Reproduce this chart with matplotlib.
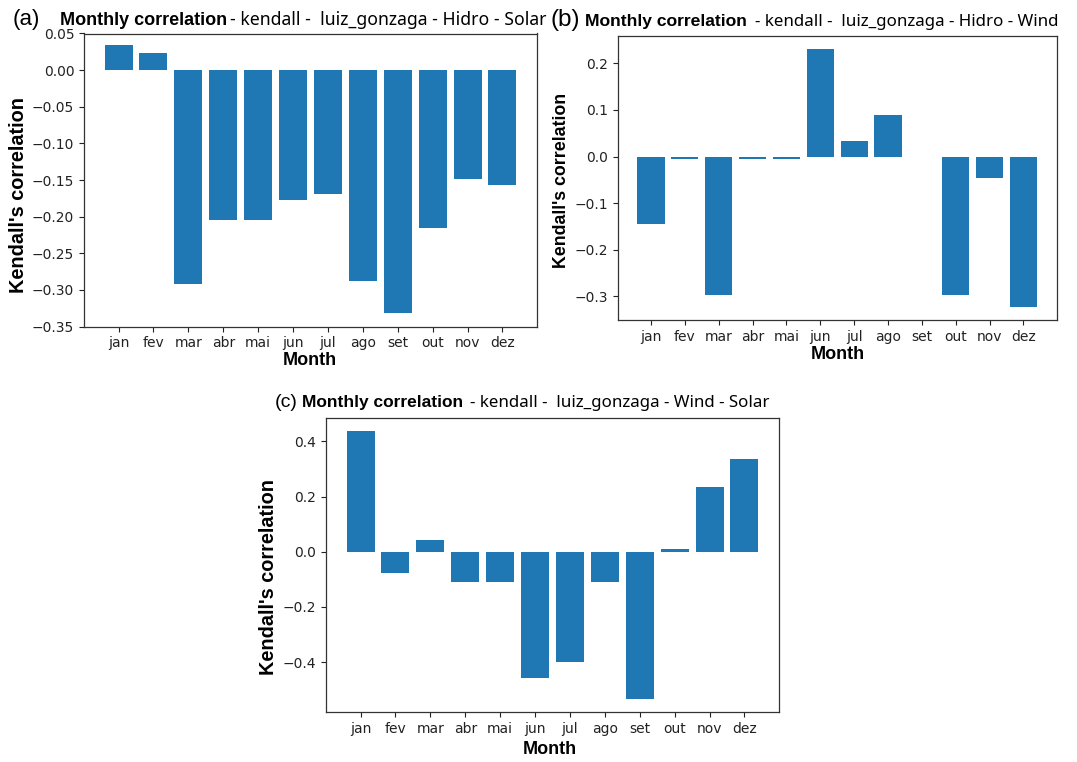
import matplotlib
matplotlib.use("Agg")
import matplotlib.pyplot as plt
import numpy as np

months = ["jan", "fev", "mar", "abr", "mai", "jun", "jul", "ago", "set", "out", "nov", "dez"]

hidro_solar = [0.034, 0.024, -0.292, -0.205, -0.205, -0.177, -0.169, -0.288, -0.331, -0.216, -0.149, -0.157]
hidro_wind = [-0.144, -0.006, -0.296, -0.006, -0.006, 0.231, 0.034, 0.090, 0.0, -0.296, -0.046, -0.323]
wind_solar = [0.436, -0.077, 0.043, -0.111, -0.111, -0.458, -0.399, -0.111, -0.532, 0.009, 0.234, 0.337]

hs_ticks = [-0.35, -0.30, -0.25, -0.20, -0.15, -0.10, -0.05, 0.00, 0.05]

W, H = 1077, 762
fig = plt.figure(figsize=(W / 100, H / 100), dpi=100)
fig.patch.set_facecolor("white")

BAR = "#1f77b4"
LBL = "Liberation Sans"
TTL = "Noto Sans"


def px_axes(left, top, right, bottom):
    return fig.add_axes([left / W, 1 - bottom / H, (right - left) / W, (bottom - top) / H])


def panel(ax, values):
    x = np.arange(len(months))
    ax.bar(x, values, width=0.8, color=BAR)
    ax.set_xticks(x)
    ax.set_xticklabels(months)
    ax.tick_params(labelsize=10, colors="#222222")
    for s in ax.spines.values():
        s.set_color("#333333")
        s.set_linewidth(0.9)


def header(letter, x_letter, x_bold, x_rest, y_base, rest, s_letter, s_bold, s_rest):
    yb = 1 - y_base / H
    fig.text(x_letter / W, yb, letter, fontsize=s_letter, family=LBL, va="baseline", ha="left")
    fig.text(x_bold / W, yb, "Monthly correlation", fontsize=s_bold, family=LBL,
             fontweight="bold", va="baseline", ha="left")
    fig.text(x_rest / W, yb, rest, fontsize=s_rest, family=TTL, va="baseline", ha="left")


def axis_labels(ylab_xy, ylab_size, xlab_xy):
    fig.text(ylab_xy[0] / W, 1 - ylab_xy[1] / H, "Kendall's correlation", rotation=90,
             fontsize=ylab_size, family=LBL, fontweight="bold", ha="center", va="center")
    fig.text(xlab_xy[0] / W, 1 - xlab_xy[1] / H, "Month", fontsize=13, family=LBL,
             fontweight="bold", ha="center", va="center")


# (a) Hidro - Solar
ax_a = px_axes(84, 33.5, 537, 326.5)
panel(ax_a, hidro_solar)
ax_a.set_ylim(-0.35, 0.05)
ax_a.set_yticks(hs_ticks)
ax_a.set_yticklabels([f"{v:.2f}".replace("-", "\u2212") if v != 0 else "0.00" for v in hs_ticks])
header("(a)", 13, 60, 230, 25, "- kendall -  luiz_gonzaga - Hidro - Solar", 16, 13, 12.7)
axis_labels((19, 195), 14.3, (310, 360))

# (b) Hidro - Wind
ax_b = px_axes(617.5, 36, 1057, 320)
panel(ax_b, hidro_wind)
header("(b)", 550, 585, 755, 26, "- kendall -  luiz_gonzaga - Hidro - Wind", 17.5, 12.6, 12.2)
axis_labels((561, 180), 12.8, (838, 354))

# (c) Wind - Solar
ax_c = px_axes(326, 418, 779, 712)
panel(ax_c, wind_solar)
header("(c)", 275, 302, 470, 407, "- kendall -  luiz_gonzaga - Wind - Solar", 14, 12.5, 12.2)
axis_labels((268, 577), 14.3, (550, 749))

fig.savefig("out.png", dpi=100, facecolor="white")
